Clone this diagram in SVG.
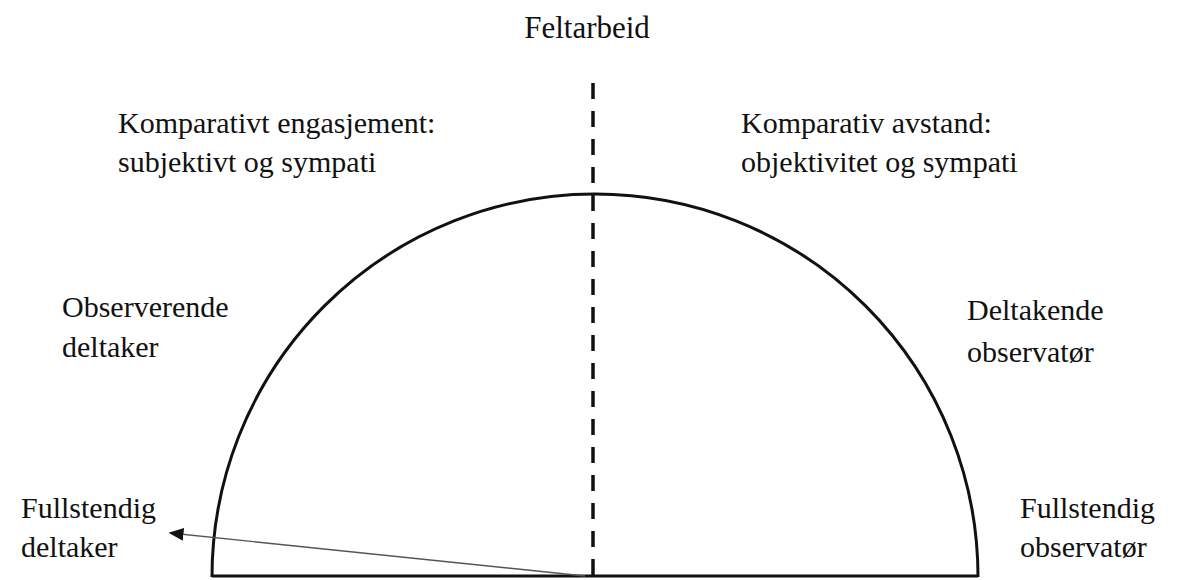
<svg xmlns="http://www.w3.org/2000/svg" width="1177" height="580" viewBox="0 0 1177 580">
<style>
text{font-family:"Liberation Serif","Times New Roman",serif;font-size:30px;fill:#111}
.arc{fill:none;stroke:#111;stroke-width:3}
.dash{stroke:#111;stroke-width:3.5;stroke-dasharray:16 12}
.conn{stroke:#555;stroke-width:1.4;fill:none}
</style>
<defs>
<marker id="ah" viewBox="0 0 10 10" refX="9" refY="5" markerWidth="15" markerHeight="13" markerUnits="userSpaceOnUse" orient="auto" preserveAspectRatio="none">
<path d="M0,0 L10,5 L0,10 z" fill="#111"/>
</marker>
</defs>
<rect width="1177" height="580" fill="#fff"/>
<g id="shape">
<path class="arc" d="M212,577 A383,383 0 0 1 978,577"/>
<line x1="212" y1="576" x2="978" y2="576" stroke="#111" stroke-width="3"/>
<line class="dash" x1="593" y1="83" x2="593" y2="577"/>
</g>
<g id="connectors">
<line class="conn" x1="585" y1="576" x2="170" y2="533" marker-end="url(#ah)"/>
</g>
<g id="title"><text x="587" y="38" text-anchor="middle" style="font-size:31px">Feltarbeid</text></g>
<g id="engasjement"><text x="118" y="133">Komparativt engasjement:</text><text x="118" y="172">subjektivt og sympati</text></g>
<g id="avstand"><text x="741" y="133">Komparativ avstand:</text><text x="741" y="172">objektivitet og sympati</text></g>
<g id="obs-deltaker"><text x="62" y="317">Observerende</text><text x="62" y="357">deltaker</text></g>
<g id="delt-observator"><text x="967" y="320">Deltakende</text><text x="967" y="362">observatør</text></g>
<g id="full-deltaker"><text x="21" y="518">Fullstendig</text><text x="21" y="557">deltaker</text></g>
<g id="full-observator"><text x="1020" y="518">Fullstendig</text><text x="1020" y="557">observatør</text></g>
</svg>
